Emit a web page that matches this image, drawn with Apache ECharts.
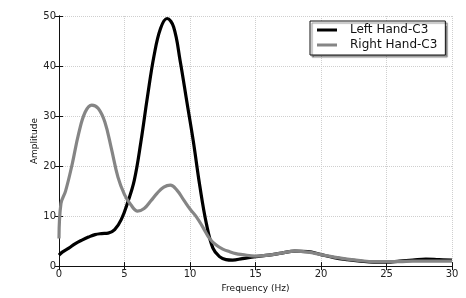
<!DOCTYPE html>
<html>
<head>
<meta charset="utf-8">
<script src="https://cdn.jsdelivr.net/npm/echarts@6/dist/echarts.min.js"></script>
<style>
  html, body { margin: 0; padding: 0; background: #fff; }
  #chart { width: 466px; height: 298px; }
</style>
</head>
<body>
<div id="chart"></div>
<script>
// amplitude spectra, [frequency Hz, amplitude]
const leftHandC3 = [
  [0, 2.2], [0.25, 2.8], [0.75, 3.6], [1.25, 4.5], [1.75, 5.2], [2.25, 5.8], [2.75, 6.3],
  [3.25, 6.5], [3.75, 6.6], [4.25, 7.3], [4.75, 9.3], [5.25, 12.8], [5.75, 17.2],
  [6.25, 24.8], [6.75, 33.8], [7.25, 42], [7.75, 47.5], [8.25, 49.5], [8.75, 47.8],
  [9.25, 41], [9.75, 33], [10.25, 25], [10.75, 16], [11.25, 8.5], [11.75, 3.6],
  [12.25, 1.9], [12.75, 1.3], [13.25, 1.2], [14, 1.5], [15, 1.9], [16, 2.2], [17, 2.6],
  [18, 3.0], [19, 2.9], [20, 2.3], [21, 1.7], [22, 1.3], [23, 1.0], [24, 0.8],
  [25, 0.8], [26, 1.0], [27, 1.2], [28, 1.4], [29, 1.3], [30, 1.2]
]
const rightHandC3 = [
  [0, 5.5], [0.15, 12.5], [0.5, 15], [1.0, 20.3], [1.5, 26.5], [2.0, 30.8], [2.5, 32.2],
  [3.0, 31.5], [3.5, 28.8], [4.0, 23.5], [4.5, 17.8], [5.0, 14.3], [5.5, 12.2],
  [6.0, 11.0], [6.5, 11.5], [7.0, 13.0], [7.5, 14.6], [8.0, 15.8], [8.5, 16.2],
  [9.0, 15.2], [9.5, 13.3], [10.0, 11.4], [10.5, 9.8], [11.0, 7.7], [11.5, 5.5],
  [12.0, 4.2], [12.5, 3.4], [13.0, 2.9], [13.5, 2.5], [14, 2.3], [15, 2.0], [16, 2.2],
  [17, 2.6], [18, 3.0], [19, 2.8], [20, 2.3], [21, 1.8], [22, 1.4], [23, 1.1],
  [24, 0.9], [25, 0.9], [26, 0.9], [27, 1.0], [28, 1.0], [29, 1.0], [30, 1.0]
]
const seriesNames = ['Left Hand-C3', 'Right Hand-C3']
const seriesColors = ['#000000', '#858585']
const xRange = [0, 30, 5]
const yRange = [0, 50, 10]

const FONT = 'DejaVu Sans'
const frame = { lineStyle: { color: '#111', width: 1 } }
const tick = { show: true, inside: true, length: 4, lineStyle: { color: '#111' } }
const grid = { type: 'dotted', color: '#cfcfcf', width: 1 }

const chart = echarts.init(document.getElementById('chart'))
chart.setOption({
  animation: false,
  backgroundColor: '#fff',
  grid: { left: 59, right: 14, top: 16, bottom: 30 },
  legend: {
    orient: 'vertical',
    left: 310,
    top: 21,
    data: seriesNames,
    icon: 'rect',
    itemWidth: 20,
    itemHeight: 3,
    itemGap: 3,
    padding: [3, 8, 4, 7],
    backgroundColor: '#fff',
    borderColor: '#111',
    borderWidth: 1,
    borderRadius: 0,
    shadowColor: 'rgba(0,0,0,0.45)',
    shadowOffsetX: 2,
    shadowOffsetY: 2,
    shadowBlur: 1,
    textStyle: { fontFamily: FONT, fontSize: 12, color: '#111', lineHeight: 12, padding: [0, 0, 0, 8] }
  },
  xAxis: [{
    type: 'value', min: xRange[0], max: xRange[1], interval: xRange[2],
    name: 'Frequency (Hz)', nameLocation: 'middle', nameGap: 14,
    nameTextStyle: { fontFamily: FONT, fontSize: 9, color: '#111' },
    axisLine: frame, axisTick: tick,
    axisLabel: { fontFamily: FONT, fontSize: 10, color: '#222', margin: 3 },
    splitLine: { show: true, lineStyle: grid }
  }, {
    type: 'value', position: 'top', min: xRange[0], max: xRange[1], interval: xRange[2],
    axisLine: frame, axisTick: tick, axisLabel: { show: false }, splitLine: { show: false }
  }],
  yAxis: [{
    type: 'value', min: yRange[0], max: yRange[1], interval: yRange[2],
    name: 'Amplitude', nameLocation: 'middle', nameGap: 20, nameRotate: 90,
    nameMoveOverlap: false,
    nameTextStyle: { fontFamily: FONT, fontSize: 9, color: '#111' },
    axisLine: frame, axisTick: tick,
    axisLabel: { fontFamily: FONT, fontSize: 10, color: '#222', margin: 3 },
    splitLine: { show: true, lineStyle: grid }
  }, {
    type: 'value', position: 'right', min: yRange[0], max: yRange[1], interval: yRange[2],
    axisLine: frame, axisTick: tick, axisLabel: { show: false }, splitLine: { show: false }
  }],
  series: [leftHandC3, rightHandC3].map((d, i) => ({
    type: 'line',
    name: seriesNames[i],
    data: d,
    smooth: 0.4,
    showSymbol: false,
    symbol: 'none',
    color: seriesColors[i],
    lineStyle: { width: 3.2, color: seriesColors[i] }
  }))
})
</script>
</body>
</html>
